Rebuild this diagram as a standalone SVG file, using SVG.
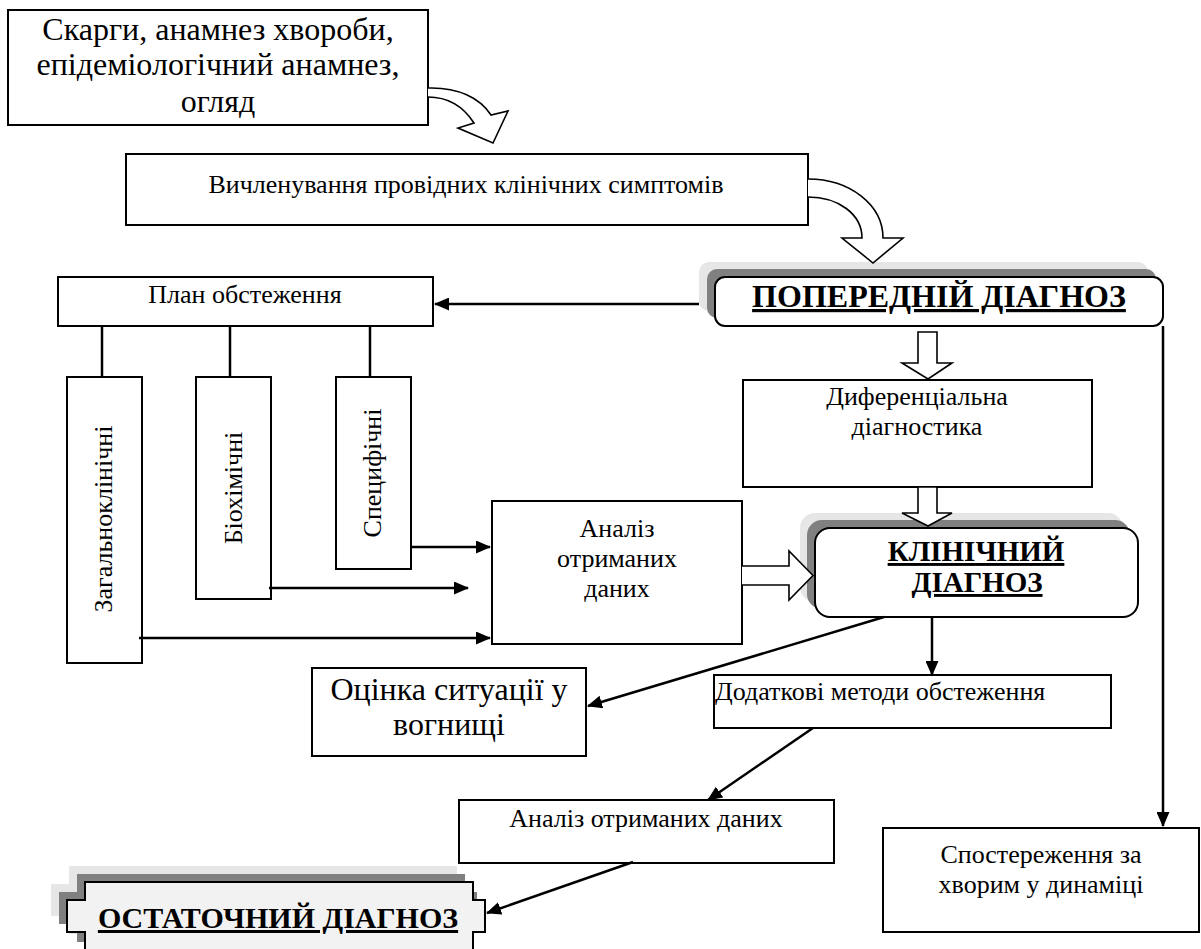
<svg xmlns="http://www.w3.org/2000/svg" width="1201" height="949" viewBox="0 0 1201 949">
<style>
text{font-family:"Liberation Serif","Times New Roman",serif;fill:#000}
.t{font-size:26px}
.tl{font-size:32px}
.b{font-size:29px;font-weight:bold;text-decoration:underline;text-decoration-thickness:3px;text-underline-offset:4px}
.box{fill:#fff;stroke:#000;stroke-width:2}
.blk{fill:#fff;stroke:#000;stroke-width:1.6;stroke-linejoin:miter}
.ln{fill:none;stroke:#000;stroke-width:2.5}
.arr{fill:none;stroke:#000;stroke-width:2.5;marker-end:url(#ah)}
.sh1{fill:#e6e6e6}
.sh2{fill:#808080}
</style>
<defs>
<marker id="ah" markerWidth="15" markerHeight="13" refX="14" refY="6.5" orient="auto" markerUnits="userSpaceOnUse"><path d="M0,0 L15,6.5 L0,13 Z" fill="#000"/></marker>
</defs>

<g id="complaints">
<rect class="box" x="8" y="10" width="420" height="115"/>
<text class="tl" x="218" y="40" text-anchor="middle">Скарги, анамнез хвороби,</text>
<text class="tl" x="218" y="75" text-anchor="middle">епідеміологічний анамнез,</text>
<text class="tl" x="218" y="112" text-anchor="middle">огляд</text>
</g>

<g id="symptoms">
<rect class="box" x="126" y="154" width="682" height="71"/>
<text class="t" x="466" y="193" text-anchor="middle">Вичленування провідних клінічних симптомів</text>
</g>

<g id="preliminary">
<rect class="sh1" x="699" y="262" width="449" height="49" rx="10"/>
<rect class="sh2" x="707" y="269" width="449" height="49" rx="10"/>
<rect class="box" x="715" y="277" width="448" height="49" rx="10"/>
<text class="b" x="939" y="307" text-anchor="middle" style="font-size:32px">ПОПЕРЕДНІЙ ДІАГНОЗ</text>
</g>

<g id="plan">
<rect class="box" x="58" y="277" width="375" height="49"/>
<text class="t" x="245" y="303" text-anchor="middle">План обстеження</text>
</g>

<g id="general">
<rect class="box" x="67" y="377" width="75" height="286"/>
<text class="t" transform="translate(112,519) rotate(-90)" text-anchor="middle">Загальноклінічні</text>
</g>

<g id="biochem">
<rect class="box" x="196" y="377" width="75" height="222"/>
<text class="t" transform="translate(242,488) rotate(-90)" text-anchor="middle">Біохімічні</text>
</g>

<g id="specific">
<rect class="box" x="336" y="377" width="75" height="192"/>
<text class="t" transform="translate(381,473) rotate(-90)" text-anchor="middle">Специфічні</text>
</g>

<g id="differential">
<rect class="box" x="743" y="380" width="349" height="107"/>
<text class="t" x="917" y="405" text-anchor="middle">Диференціальна</text>
<text class="t" x="917" y="435" text-anchor="middle">діагностика</text>
</g>

<g id="analysis1">
<rect class="box" x="492" y="501" width="250" height="143"/>
<text class="t" x="617" y="537" text-anchor="middle">Аналіз</text>
<text class="t" x="617" y="567" text-anchor="middle">отриманих</text>
<text class="t" x="617" y="597" text-anchor="middle">даних</text>
</g>

<g id="clinical">
<rect class="sh1" x="800" y="513" width="323" height="89" rx="15"/>
<rect class="sh2" x="807" y="520" width="323" height="89" rx="15"/>
<rect class="box" x="815" y="528" width="323" height="89" rx="15"/>
<text class="b" x="976" y="561" text-anchor="middle">КЛІНІЧНИЙ</text>
<text class="b" x="977" y="592" text-anchor="middle">ДІАГНОЗ</text>
</g>

<g id="situation">
<rect class="box" x="312" y="668" width="274" height="88"/>
<text class="tl" x="449" y="700" text-anchor="middle">Оцінка ситуації у</text>
<text class="tl" x="449" y="735" text-anchor="middle">вогнищі</text>
</g>

<g id="additional">
<rect class="box" x="714" y="675" width="397" height="53"/>
<text class="t" x="715" y="700">Додаткові методи обстеження</text>
</g>

<g id="analysis2">
<rect class="box" x="459" y="800" width="375" height="63"/>
<text class="t" x="646" y="827" text-anchor="middle">Аналіз отриманих даних</text>
</g>

<g id="observation">
<rect class="box" x="883" y="828" width="316" height="104"/>
<text class="t" x="1041" y="863" text-anchor="middle">Спостереження за</text>
<text class="t" x="1041" y="893" text-anchor="middle">хворим у динаміці</text>
</g>

<g id="final">
<path class="sh1" d="M69,866 H457 V884 H469 V916 H457 V934 H69 V916 H51 V884 H69 Z"/>
<path class="sh2" d="M77,874 H465 V892 H477 V924 H465 V942 H77 V924 H59 V892 H77 Z"/>
<path d="M85,882 H473 V900 H485 V932 H473 V950 H85 V932 H67 V900 H85 Z" fill="#f2f2f2" stroke="#000" stroke-width="2"/>
<text class="b" x="278" y="928" text-anchor="middle" style="font-size:30px">ОСТАТОЧНИЙ ДІАГНОЗ</text>
</g>

<g id="connectors">
<path class="blk" d="M428,88 C458,87 480,98 491,115 L508,111 L493,143 L458,128 L474,123 C463,106 447,97 428,97"/>
<path class="blk" d="M808,179 C850,179 883,205 883,238 L903,238 L873,263 L842,238 L862,238 C862,214 838,197 808,197"/>
<path class="blk" d="M918,332 H937 V363 H952 L928,379 L902,363 H918 Z"/>
<path class="blk" d="M918,487 H937 V513 H952 L928,526 L902,513 H918 Z"/>
<path class="blk" d="M742,566 H789 V551 L813,575.5 L789,600 V585 H742"/>
<line class="arr" x1="699" y1="304" x2="435" y2="304"/>
<line class="ln" x1="102" y1="326" x2="102" y2="377"/>
<line class="ln" x1="230" y1="326" x2="230" y2="377"/>
<line class="ln" x1="370" y1="326" x2="370" y2="377"/>
<line class="arr" x1="411" y1="547" x2="490" y2="547"/>
<line class="arr" x1="269" y1="588" x2="468" y2="588"/>
<line class="arr" x1="139" y1="638" x2="490" y2="638"/>
<line class="arr" x1="884" y1="617" x2="588" y2="706"/>
<line class="arr" x1="932" y1="617" x2="932" y2="675"/>
<line class="arr" x1="813" y1="728" x2="708" y2="800"/>
<line class="arr" x1="633" y1="862" x2="487" y2="913"/>
<polyline class="arr" points="1163,326 1163,826"/>
</g>
</svg>
